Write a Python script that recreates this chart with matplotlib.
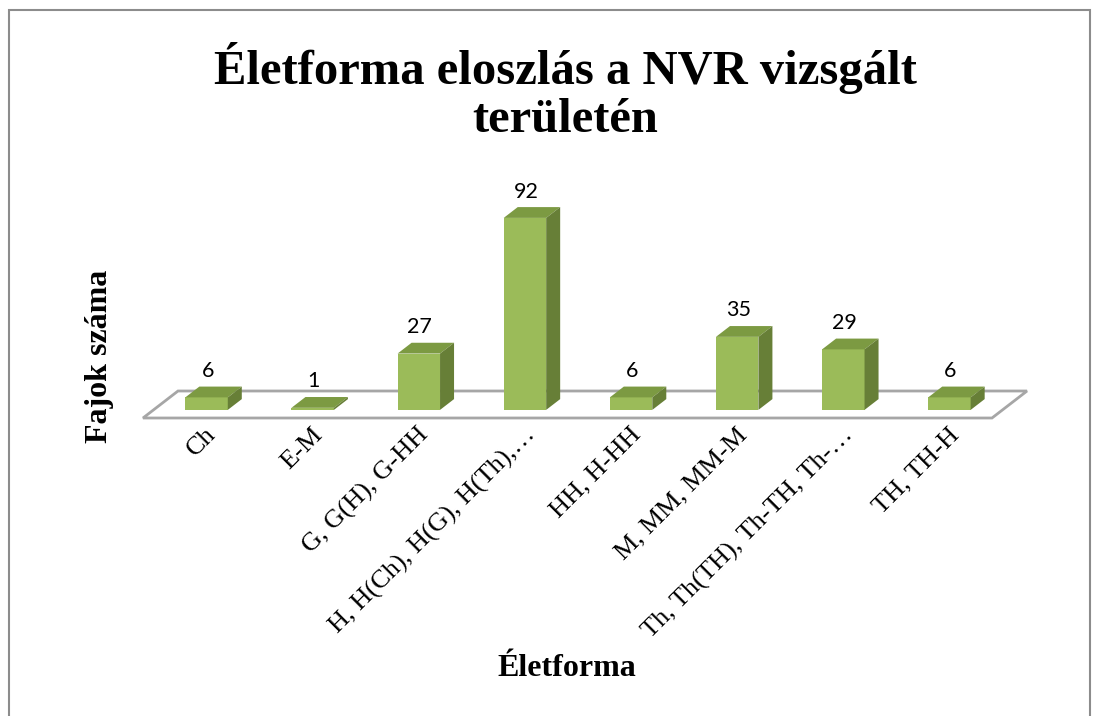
import matplotlib.pyplot as plt
from matplotlib.patches import Polygon, Rectangle
from matplotlib.transforms import ScaledTranslation
import numpy as np

categories = ["Ch", "E-M", "G, G(H), G-HH", "H, H(Ch), H(G), H(Th),\u2026",
              "HH, H-HH", "M, MM, MM-M", "Th, Th(TH), Th-TH, Th-\u2026", "TH, TH-H"]
values = [6, 1, 27, 92, 6, 35, 29, 6]

title = "Életforma eloszlás a NVR vizsgált\nterületén"
ylabel = "Fajok száma"
xlabel = "Életforma"

W, H = 1106, 716
def fx(px):
    return px / W
def fy(py):
    return 1 - py / H

c_front = "#9BBB59"
c_top = "#7C9A42"
c_side = "#677F37"
c_floor = "#A6A6A6"

fig = plt.figure(figsize=(W / 100, H / 100), dpi=100)

# plot area: floor front edge runs from x=143 to 992 px at y=418 px
px_per_val = 2.087
ax = fig.add_axes([fx(143), fy(418), 849 / W, (418 - 150) / H])
ax.set_xlim(-0.5, 7.5)
ax.set_ylim(0, (418 - 150) / px_per_val)
for s in ax.spines.values():
    s.set_visible(False)
ax.set_yticks([])

DX = 35 / 106.1          # floor depth in x units
DY = 27 / px_per_val     # floor depth in value units
d0, bd = 0.3, 0.4        # bar front depth and bar depth (fraction of floor)

floor = Polygon([(-0.5, 0), (7.5, 0), (7.5 + DX, DY), (-0.5 + DX, DY)],
                closed=True, facecolor="white", edgecolor=c_floor, lw=2,
                clip_on=False, zorder=1)
ax.add_patch(floor)

idx = np.arange(len(values))
bw = 0.4
ax.bar(idx + d0 * DX, values, width=bw, bottom=d0 * DY, color=c_front,
       edgecolor="none", zorder=3, clip_on=False)

for i, v in zip(idx, values):
    x0 = i - bw / 2 + d0 * DX
    x1 = i + bw / 2 + d0 * DX
    y0 = d0 * DY
    y1 = y0 + v
    ox, oy = bd * DX, bd * DY
    ax.add_patch(Polygon([(x0, y1), (x1, y1), (x1 + ox, y1 + oy), (x0 + ox, y1 + oy)],
                         closed=True, facecolor=c_top, edgecolor="none",
                         clip_on=False, zorder=3))
    ax.add_patch(Polygon([(x1, y0), (x1 + ox, y0 + oy), (x1 + ox, y1 + oy), (x1, y1)],
                         closed=True, facecolor=c_side, edgecolor="none",
                         clip_on=False, zorder=3))
    ax.annotate(str(v), (i + 0.33 * DX, y1 + oy), xytext=(0, 4),
                textcoords="offset points", ha="center", va="bottom",
                fontsize=15.5, family="Lato", zorder=4)

ax.set_xticks(idx)
ax.set_xticklabels(categories, rotation=45, ha="right", rotation_mode="anchor",
                   fontsize=19, family="Liberation Serif")
ax.tick_params(axis="x", length=0, pad=4)
shift = ScaledTranslation(9 / 100, 0, fig.dpi_scale_trans)
for lab in ax.get_xticklabels():
    lab.set_transform(lab.get_transform() + shift)

fig.text(fx(565), fy(92), title, ha="center", va="center", fontsize=35,
         fontweight="bold", family="Liberation Serif", linespacing=1.1)
fig.text(fx(100), fy(356), ylabel, ha="center", va="center", rotation=90,
         fontsize=23, fontweight="bold", family="Liberation Serif")
fig.text(fx(567), fy(668), xlabel, ha="center", va="center",
         fontsize=23, fontweight="bold", family="Liberation Serif")

fig.patches.append(Rectangle((fx(9), -0.02), (1090 - 9) / W, fy(10) + 0.02,
                             transform=fig.transFigure, fill=False,
                             edgecolor="#8C8C8C", lw=1.5))

fig.savefig("out.png", dpi=100)
